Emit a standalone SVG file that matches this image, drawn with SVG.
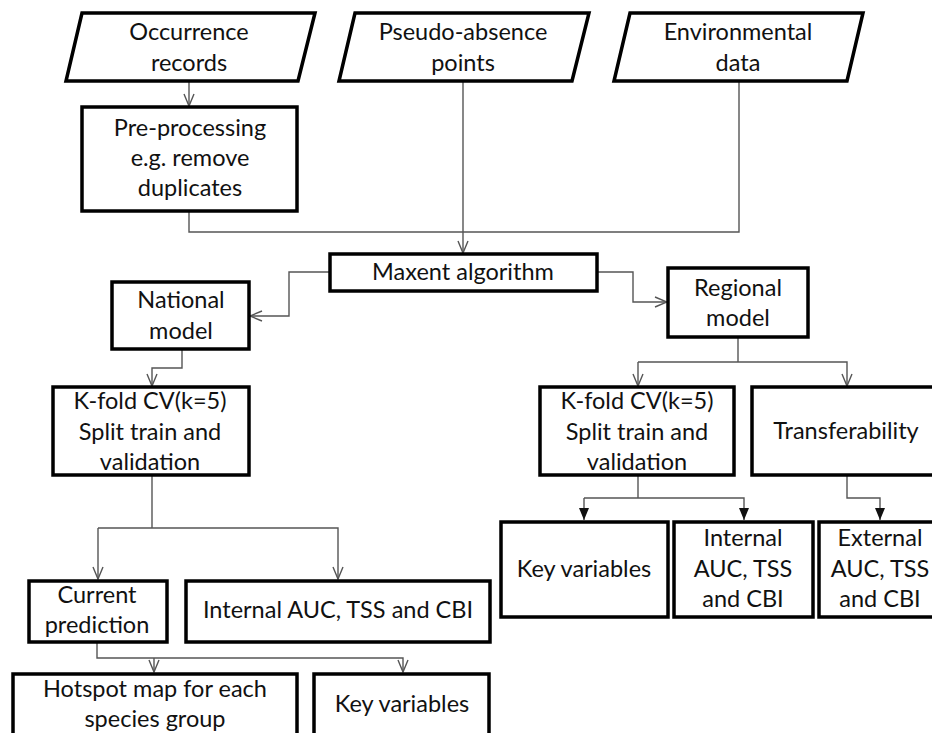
<svg xmlns="http://www.w3.org/2000/svg" width="932" height="733" viewBox="0 0 932 733">
<defs>
<style>
.box{fill:#fff;stroke:#000;stroke-width:3.5}
.t{font-family:Lato,"Open Sans","Liberation Sans",sans-serif;font-size:23.5px;fill:#111;text-anchor:middle}
.c{fill:none;stroke:#555;stroke-width:1.4}
.o{marker-end:url(#open)}
.f{marker-end:url(#fill)}
</style>
<marker id="open" viewBox="0 0 14 12" refX="13" refY="6" markerWidth="14" markerHeight="12" markerUnits="userSpaceOnUse" orient="auto">
<path d="M1,1 L13,6 L1,11" fill="none" stroke="#555" stroke-width="1.4"/>
</marker>
<marker id="fill" viewBox="0 0 12 12" refX="12" refY="6" markerWidth="12" markerHeight="12" markerUnits="userSpaceOnUse" orient="auto">
<path d="M0,1 L12,6 L0,11 Z" fill="#111"/>
</marker>
</defs>
<rect width="932" height="733" fill="#fff"/>
<g id="connectors">
<path class="c o" d="M189,82 V106"/>
<path class="c" d="M189,211 V232 H463"/>
<path class="c" d="M739,82 V232 H463"/>
<path class="c o" d="M463,82 V253"/>
<path class="c o" d="M330,272 H289 V316 H250"/>
<path class="c o" d="M597,272 H633 V302 H667"/>
<path class="c o" d="M182,349 V368 H152 V386"/>
<path class="c" d="M738,337 V362"/>
<path class="c o" d="M638,362 H847 V386"/>
<path class="c o" d="M638,362 V386"/>
<path class="c" d="M152,475 V528"/>
<path class="c o" d="M98,528 H338 V579"/>
<path class="c o" d="M98,528 V579"/>
<path class="c" d="M638,475 V498"/>
<path class="c f" d="M584,498 H744 V520"/>
<path class="c f" d="M584,498 V520"/>
<path class="c f" d="M847,475 V498 H880 V520"/>
<path class="c o" d="M97,642 V658 H403 V672"/>
<path class="c o" d="M154,658 V672"/>
</g>
<g id="occurrence">
<polygon class="box" points="82,13 315,13 298,81 66,81"/>
<text class="t" x="189" y="40">Occurrence</text>
<text class="t" x="189" y="71">records</text>
</g>
<g id="pseudo">
<polygon class="box" points="355,13 589,13 572,81 339,81"/>
<text class="t" x="463" y="40">Pseudo-absence</text>
<text class="t" x="463" y="71">points</text>
</g>
<g id="environmental">
<polygon class="box" points="630,13 863,13 847,81 614,81"/>
<text class="t" x="738" y="40">Environmental</text>
<text class="t" x="738" y="71">data</text>
</g>
<g id="preprocessing">
<rect class="box" x="82" y="107" width="215" height="104"/>
<text class="t" x="190" y="136">Pre-processing</text>
<text class="t" x="190" y="166">e.g. remove</text>
<text class="t" x="190" y="196">duplicates</text>
</g>
<g id="maxent">
<rect class="box" x="330" y="254" width="267" height="37"/>
<text class="t" x="463" y="280">Maxent algorithm</text>
</g>
<g id="national">
<rect class="box" x="112" y="282" width="137" height="67"/>
<text class="t" x="181" y="308">National</text>
<text class="t" x="181" y="339">model</text>
</g>
<g id="regional">
<rect class="box" x="668" y="268" width="140" height="69"/>
<text class="t" x="738" y="296">Regional</text>
<text class="t" x="738" y="326">model</text>
</g>
<g id="kfold-national">
<rect class="box" x="53" y="387" width="196" height="88"/>
<text class="t" x="150" y="409">K-fold CV(k=5)</text>
<text class="t" x="150" y="440">Split train and</text>
<text class="t" x="150" y="470">validation</text>
</g>
<g id="kfold-regional">
<rect class="box" x="540" y="387" width="194" height="88"/>
<text class="t" x="637" y="409">K-fold CV(k=5)</text>
<text class="t" x="637" y="440">Split train and</text>
<text class="t" x="637" y="470">validation</text>
</g>
<g id="transferability">
<rect class="box" x="752" y="387" width="190" height="88"/>
<text class="t" x="846" y="439">Transferability</text>
</g>
<g id="key-variables-regional">
<rect class="box" x="501" y="522" width="167" height="95"/>
<text class="t" x="584" y="577">Key variables</text>
</g>
<g id="internal-regional">
<rect class="box" x="674" y="522" width="139" height="95"/>
<text class="t" x="743" y="546">Internal</text>
<text class="t" x="743" y="577">AUC, TSS</text>
<text class="t" x="743" y="607">and CBI</text>
</g>
<g id="external">
<rect class="box" x="819" y="522" width="125" height="95"/>
<text class="t" x="880" y="546">External</text>
<text class="t" x="880" y="577">AUC, TSS</text>
<text class="t" x="880" y="607">and CBI</text>
</g>
<g id="current-prediction">
<rect class="box" x="29" y="581" width="138" height="61"/>
<text class="t" x="97" y="603">Current</text>
<text class="t" x="97" y="633">prediction</text>
</g>
<g id="internal-national">
<rect class="box" x="186" y="581" width="304" height="61"/>
<text class="t" x="338" y="618">Internal AUC, TSS and CBI</text>
</g>
<g id="hotspot">
<rect class="box" x="13" y="674" width="284" height="70"/>
<text class="t" x="155" y="697">Hotspot map for each</text>
<text class="t" x="155" y="727">species group</text>
</g>
<g id="key-variables-national">
<rect class="box" x="314" y="674" width="175" height="70"/>
<text class="t" x="402" y="712">Key variables</text>
</g>
</svg>
